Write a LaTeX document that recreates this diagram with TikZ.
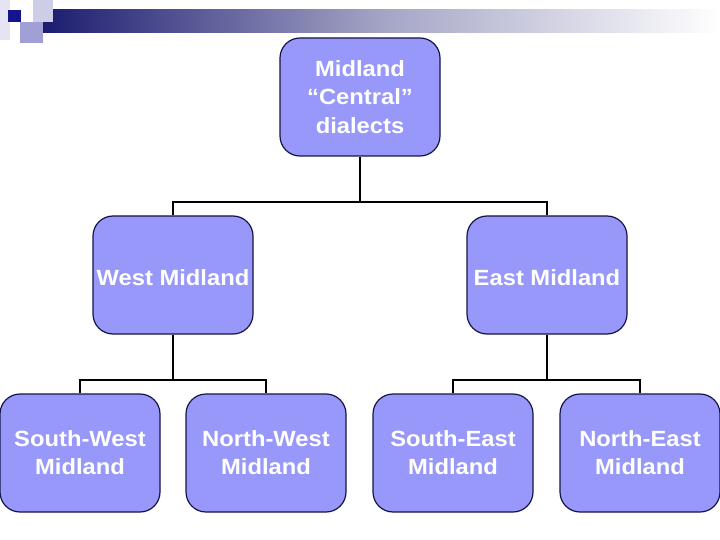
\documentclass[tikz,border=0pt]{standalone}
\usepackage{fontspec}
\setmainfont{Liberation Sans}
\newfontfamily\boxfont[FakeStretch=1.08]{Liberation Sans}
\usetikzlibrary{calc}
\definecolor{boxfill}{RGB}{152,152,250}
\definecolor{boxline}{RGB}{20,20,70}
\definecolor{navy}{RGB}{28,28,112}
\definecolor{decodark}{RGB}{20,20,140}
\definecolor{decomid}{RGB}{160,160,215}
\definecolor{decolight}{RGB}{205,205,232}
\definecolor{decopale}{RGB}{228,228,242}
\tikzset{
  box/.style={draw=boxline, line width=1.2pt, fill=boxfill, rounded corners=20pt,
    minimum width=160pt, minimum height=118pt, inner sep=0pt, align=center,
    text=white, font=\boxfont\fontsize{22pt}{28.5pt}\selectfont\bfseries},
  link/.style={draw=black, line width=2.7pt}
}
\begin{document}
\begin{tikzpicture}[x=1pt,y=-1pt]
\useasboundingbox (0,0) rectangle (720,540);
\fill[white] (0,0) rectangle (720,540);
% decoration
\fill[decopale] (0,0) rectangle (10,40);
\shade[left color=navy, right color=white, middle color=navy!40!white] (43,10) rectangle (720,33);
\fill[decolight] (33,0) rectangle (53,22);
\fill[decomid] (20,22) rectangle (43,43);
\fill[decodark] (8,10) rectangle (21,22);
% nodes
\node[box] (top) at (360,97) {Midland\\“Central”\\dialects};
\node[box] (west) at (173,275) {\raisebox{-2.5pt}[\height][\depth]{West Midland}};
\node[box] (east) at (547,275) {\raisebox{-2.5pt}[\height][\depth]{East Midland}};
\node[box] (sw) at (80,453) {\raisebox{-2pt}[\height][\depth]{\begin{tabular}{@{}c@{}}South-West\\Midland\end{tabular}}};
\node[box] (nw) at (266,453) {\raisebox{-2pt}[\height][\depth]{\begin{tabular}{@{}c@{}}North-West\\Midland\end{tabular}}};
\node[box] (se) at (453,453) {\raisebox{-2pt}[\height][\depth]{\begin{tabular}{@{}c@{}}South-East\\Midland\end{tabular}}};
\node[box] (ne) at (640,453) {\raisebox{-2pt}[\height][\depth]{\begin{tabular}{@{}c@{}}North-East\\Midland\end{tabular}}};
% connectors
\coordinate (j1) at (360,202);
\coordinate (j2) at (173,380);
\coordinate (j3) at (547,380);
\draw[link] (top.south) -- (j1);
\draw[link] (west.north) |- (j1) -| (east.north);
\draw[link] (west.south) -- (j2);
\draw[link] (sw.north) |- (j2) -| (nw.north);
\draw[link] (east.south) -- (j3);
\draw[link] (se.north) |- (j3) -| (ne.north);
\end{tikzpicture}
\end{document}
